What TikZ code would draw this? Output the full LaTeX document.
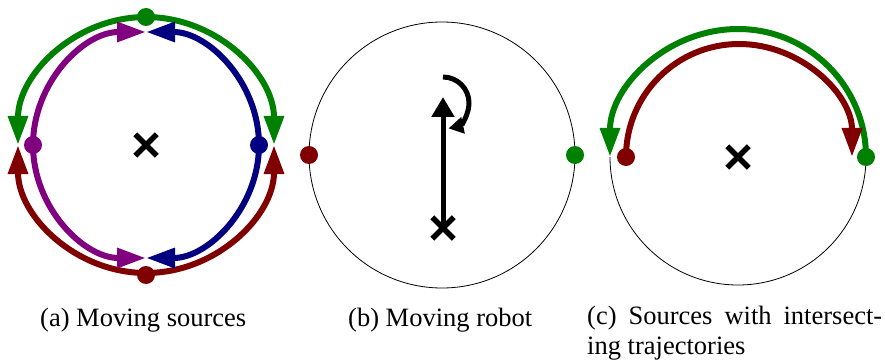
\documentclass[tikz,border=0pt]{standalone}
\usepackage{fontspec}
\setmainfont{Liberation Serif}
\usepackage{tikz}
\usetikzlibrary{arrows.meta,shapes.misc}
\definecolor{srcgreen}{RGB}{0,128,0}
\definecolor{srcred}{RGB}{128,0,0}
\definecolor{srcpurple}{RGB}{128,0,128}
\definecolor{srcblue}{RGB}{0,0,128}
\newcommand{\outr}{128}
\newcommand{\innr}{113}
\tikzset{
    src/.style = {circle, fill=#1, inner sep=0pt, minimum size=18pt},
    traj/.style = {#1, line width=6pt, -{Triangle[length=29pt,width=19pt]}},
    target/.style = {cross out, draw, line width=5.5pt, minimum size=16pt, inner sep=0pt},
    caption/.style = {font=\fontsize{26.5}{30}\selectfont, inner sep=0pt}
}

\begin{document}
\begin{tikzpicture}[x=1pt,y=1pt]
    %\draw[help lines] (0,0) grid (885,362);
    \useasboundingbox (0,0) rectangle (885,362);
        % (a) moving sources
        \node[target] (ta) at (146,217) {};
        \draw[traj=srcgreen] (146,345) arc[start angle=90, end angle=180, radius=\outr];
        \draw[traj=srcgreen] (146,345) arc[start angle=90, end angle=0, radius=\outr];
        \draw[traj=srcred] (146,89) arc[start angle=270, end angle=180, radius=\outr];
        \draw[traj=srcred] (146,89) arc[start angle=270, end angle=360, radius=\outr];
        \draw[traj=srcpurple] (33,217) arc[start angle=180, end angle=90, radius=\innr];
        \draw[traj=srcpurple] (33,217) arc[start angle=180, end angle=270, radius=\innr];
        \draw[traj=srcblue] (259,217) arc[start angle=0, end angle=90, radius=\innr];
        \draw[traj=srcblue] (259,217) arc[start angle=0, end angle=-90, radius=\innr];
        \node[src=srcgreen] (ga) at (146,345) {};
        \node[src=srcred] (ra) at (146,87) {};
        \node[src=srcpurple] (pa) at (33,217) {};
        \node[src=srcblue] (ba) at (259,217) {};
        
        % (b) moving robot
        \draw[line width=0.8pt] (442,207) circle[radius=133];
        \node[src=srcred] (rb) at (309,207) {};
        \node[src=srcgreen] (gb) at (575,207) {};
        \node[target] (tb) at (443,134) {};
        \coordinate (head) at (443,265);
        \draw[line width=5pt, -{Triangle[length=20pt,width=22pt]}] (tb.center) -- (head);
        \draw[line width=5pt, -{Triangle[length=15pt,width=16pt]}] (443,285) arc[start angle=90, end angle=-78, radius=26];
        
        % (c) intersecting trajectories
        \draw[line width=0.8pt] (610,205) arc[start angle=180, end angle=360, radius=\outr];
        \node[target] (tc) at (738,205) {};
        \draw[traj=srcgreen] (866,205) arc[start angle=0, end angle=180, radius=\outr];
        \draw[traj=srcred] (626,205) arc[start angle=180, end angle=0, radius=\innr];
        \node[src=srcgreen] (gc) at (866,205) {};
        \node[src=srcred] (rc) at (626,205) {};
        
        % captions
        \node[caption, anchor=base west] (capa) at (40,36) {(a) Moving sources};
        \node[caption, anchor=base west] (capb) at (348,36) {(b) Moving robot};
        \node[caption, anchor=north west, text width=295pt, align=justify] (capc) at (587,56)
            {(c) Sources with intersect-\linebreak ing trajectories};
        
        
\end{tikzpicture}
\end{document}
